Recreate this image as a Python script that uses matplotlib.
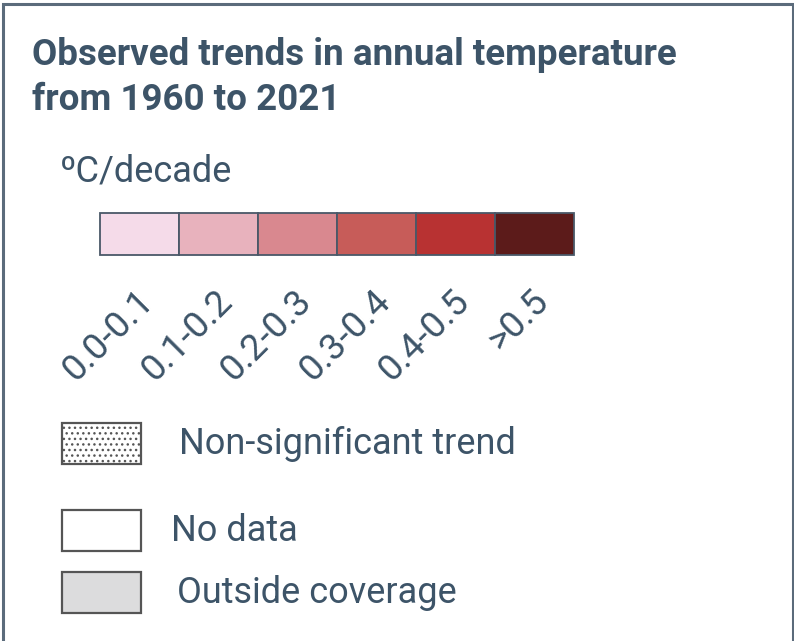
import matplotlib.pyplot as plt
from matplotlib.patches import Rectangle

# legend content
bins = ["0.0-0.1", "0.1-0.2", "0.2-0.3", "0.3-0.4", "0.4-0.5", ">0.5"]
bin_colors = ["#f5dbe9", "#e8b2bd", "#d9888f", "#c75c59", "#b83232", "#5c1b1a"]
extra_labels = ["Non-significant trend", "No data", "Outside coverage"]
extra_fills = ["white", "white", "#dcdcdd"]
title_lines = ["Observed trends in annual temperature", "from 1960 to 2021"]
unit = "ºC/decade"

txt = "#3d5468"
plt.rcParams['font.family'] = ['Roboto', 'DejaVu Sans']
plt.rcParams['hatch.color'] = '#888888'
plt.rcParams['hatch.linewidth'] = 1.0

fig = plt.figure(figsize=(7.94, 6.41), dpi=100)
ax = fig.add_axes([0, 0, 1, 1])
ax.set_xlim(0, 794)
ax.set_ylim(641, 0)
ax.axis('off')

# outer frame (bottom runs off the picture)
ax.plot([2.5, 2.5, 792.5, 792.5], [645, 3.5, 3.5, 645], color="#5b6b7b", lw=2.2,
        solid_joinstyle='miter')

ax.text(32, 55, title_lines[0], fontsize=26.5, fontweight='bold', color=txt, va='center')
ax.text(32, 100, title_lines[1], fontsize=26.5, fontweight='bold', color=txt, va='center')
ax.text(60, 172, unit, fontsize=26, color=txt, va='center')

# colour bins
x0, w, y0, h = 100, 79, 213, 42
for i, (lab, c) in enumerate(zip(bins, bin_colors)):
    ax.add_patch(Rectangle((x0 + i * w, y0), w, h, facecolor=c, edgecolor="#4a5868", lw=1.3))
    ax.text(x0 + i * w + w / 2 - 4, 283, lab, fontsize=26.5, color=txt, rotation=45,
            ha='right', va='top', rotation_mode='anchor')

# other legend entries
rows_y = [423, 510, 572]
text_x = [179, 171, 177]
for i, (lab, fc) in enumerate(zip(extra_labels, extra_fills)):
    hatch = '...' if i == 0 else None
    ax.add_patch(Rectangle((62, rows_y[i]), 79, 41, facecolor=fc, edgecolor="#555555",
                           lw=1.6, hatch=hatch))
    ax.text(text_x[i], rows_y[i] + 21, lab, fontsize=26, color=txt, va='center')

fig.savefig("out.png", dpi=100)
